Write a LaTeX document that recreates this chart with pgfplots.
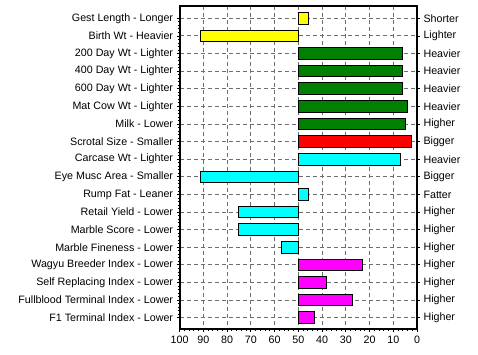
\documentclass[border=0pt]{standalone}
\usepackage{pgfplots}
\usepackage{pgfplotstable}
\pgfplotsset{compat=1.18}
\usepackage{fontspec}
\setmainfont{Liberation Sans}
\definecolor{xlgreen}{RGB}{0,128,0}
\definecolor{xlyellow}{RGB}{255,255,0}
\definecolor{xlred}{RGB}{255,0,0}
\definecolor{xlcyan}{RGB}{0,255,255}
\definecolor{xlmagenta}{RGB}{255,0,255}
\definecolor{gridgray}{RGB}{110,110,110}

\pgfplotstableread{
y v
0 45.5
1 91
}\yellowdata
\pgfplotstableread{
y v
2 6
3 6
4 6
5 4
6 5
}\greendata
\pgfplotstableread{
y v
7 2.5
}\reddata
\pgfplotstableread{
y v
8 7
9 91
10 45.5
11 75
12 75
13 57
}\cyandata
\pgfplotstableread{
y v
14 23
15 38
16 27
17 43
}\magentadata

\begin{document}
\begin{tikzpicture}[font=\fontsize{10.7}{12}\selectfont]
\useasboundingbox (-179.6pt,-26pt) rectangle (298.4pt,329pt);
\begin{axis}[
  at={(0,0)}, anchor=south west,
  scale only axis, width=237.4pt, height=323pt,
  xmin=-50, xmax=50, ymin=-0.7, ymax=17.64, y dir=reverse,
  xtick={-50,-40,...,50},
  xticklabels={100,90,80,70,60,50,40,30,20,10,0},
  minor x tick num=4,
  ytick={0,...,17},
  yticklabels={Gest Length - Longer,Birth Wt - Heavier,200 Day Wt - Lighter,400 Day Wt - Lighter,600 Day Wt - Lighter,Mat Cow Wt - Lighter,Milk - Lower,Scrotal Size - Smaller,Carcase Wt - Lighter,Eye Musc Area - Smaller,Rump Fat - Leaner,Retail Yield - Lower,Marble Score - Lower,Marble Fineness - Lower,Wagyu Breeder Index - Lower,Self Replacing Index - Lower,Fullblood Terminal Index - Lower,F1 Terminal Index - Lower},
  minor y tick num=4,
  ytick pos=left, xtick pos=bottom,
  tick align=outside,
  major tick length=3pt, minor tick length=2pt,
  grid=major,
  major grid style={gridgray, dash pattern=on 4pt off 3pt, line width=0.9pt},
  axis line style={line width=1.8pt},
  tick style={black, line width=0.8pt},
  /pgf/number format/assume math mode=true,
  xbar, bar width=0.66,
]
\addplot[xbar, bar shift=0pt, fill=xlyellow, draw=black, line width=1pt] table[y=y, x expr=50-\thisrow{v}] {\yellowdata};
\addplot[xbar, bar shift=0pt, fill=xlgreen, draw=black, line width=1pt] table[y=y, x expr=50-\thisrow{v}] {\greendata};
\addplot[xbar, bar shift=0pt, fill=xlred, draw=black, line width=1pt] table[y=y, x expr=50-\thisrow{v}] {\reddata};
\addplot[xbar, bar shift=0pt, fill=xlcyan, draw=black, line width=1pt] table[y=y, x expr=50-\thisrow{v}] {\cyandata};
\addplot[xbar, bar shift=0pt, fill=xlmagenta, draw=black, line width=1pt] table[y=y, x expr=50-\thisrow{v}] {\magentadata};
\end{axis}
\begin{axis}[
  at={(0,0)}, anchor=south west,
  scale only axis, width=237.4pt, height=323pt,
  xmin=-50, xmax=50, ymin=-0.7, ymax=17.64, y dir=reverse,
  hide x axis,
  ytick={0,...,17},
  yticklabels={Shorter,Lighter,Heavier,Heavier,Heavier,Heavier,Higher,Bigger,Heavier,Bigger,Fatter,Higher,Higher,Higher,Higher,Higher,Higher,Higher},
  ytick pos=right, yticklabel pos=right,
  tick align=outside,
  major tick length=3pt,
  axis line style={line width=1.8pt},
  tick style={black, line width=0.8pt},
]
\end{axis}
\end{tikzpicture}
\end{document}
